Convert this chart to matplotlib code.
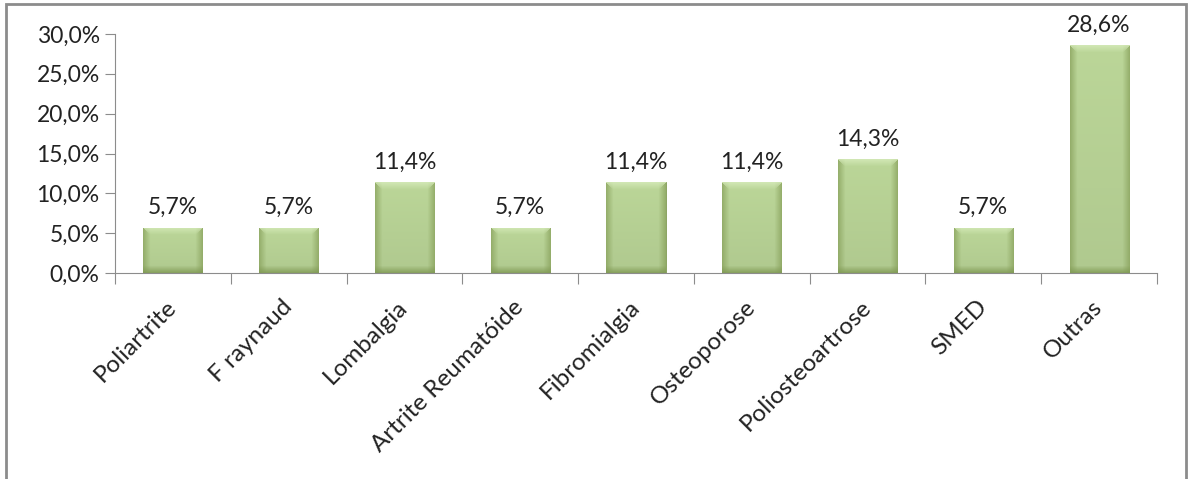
import numpy as np
import matplotlib
matplotlib.use("Agg")
import matplotlib.pyplot as plt
from matplotlib.patches import Rectangle
from matplotlib.colors import to_rgb

categorias = ["Poliartrite", "F raynaud", "Lombalgia", "Artrite Reumatóide", "Fibromialgia",
              "Osteoporose", "Poliosteoartrose", "SMED", "Outras"]
valores = [5.7, 5.7, 11.4, 5.7, 11.4, 11.4, 14.3, 5.7, 28.6]
rotulos = ["5,7%", "5,7%", "11,4%", "5,7%", "11,4%", "11,4%", "14,3%", "5,7%", "28,6%"]
yticks = [0, 5, 10, 15, 20, 25, 30]

plt.rcParams['font.family'] = ['Lato', 'DejaVu Sans']

fig = plt.figure(figsize=(11.89, 4.79), dpi=100)
ax = fig.add_axes([115/1189, 1-273/479, (1157-115)/1189, (273-34)/479])

# moldura do grafico
fig.patches.append(Rectangle((6/1189, -0.05), (1186-6)/1189, 1.05 - 4/479, transform=fig.transFigure,
                             fill=False, edgecolor="#8c8c8c", linewidth=2, zorder=0))

x = np.arange(len(categorias))
largura = 0.51
base = np.array(to_rgb("#bbd698"))
lado = np.array(to_rgb("#8aa35e"))
fundo = np.array(to_rgb("#7f9953"))
topo = np.array(to_rgb("#d6ebba"))


def imagem_bisel(h):
    # sombreamento tipo "bisel" do Excel, em pixels aproximados
    nx = 59
    ny = max(int(round(h * 239 / 30)), 10)
    i = np.arange(nx)[None, :]
    j = np.arange(ny)[:, None]
    dl = np.minimum(i, nx - 1 - i)
    db = ny - 1 - j
    dt = j
    img = np.tile(base, (ny, nx, 1)).astype(float)
    t = (j / ny)[..., None]
    img = img * (1 - 0.06 * t)
    b = 7.0
    fl = np.clip(1 - dl / b, 0, 1)[..., None] * np.ones((ny, 1, 1))
    fb = np.clip(1 - db / b, 0, 1)[..., None] * np.ones((1, nx, 1))
    ft = np.clip(1 - dt / b, 0, 1)[..., None] * np.ones((1, nx, 1))
    img = img * (1 - 0.75 * fl) + lado * 0.75 * fl
    img = img * (1 - 0.8 * fb) + fundo * 0.8 * fb
    ft = ft * (dl[..., None] >= dt[..., None])
    img = img * (1 - 0.8 * ft) + topo * 0.8 * ft
    return np.clip(img, 0, 1)


barras = ax.bar(x, valores, width=largura, color="#b5d08a", edgecolor="#7f9953", linewidth=0.6, zorder=2)
for b in barras:
    x0, y0, w, h = b.get_x(), b.get_y(), b.get_width(), b.get_height()
    im = ax.imshow(imagem_bisel(h), extent=[x0, x0 + w, y0, y0 + h], origin="upper",
                   aspect="auto", zorder=2.5, interpolation="bilinear")
    im.set_clip_path(b)

for xi, v, r in zip(x, valores, rotulos):
    ax.text(xi, v + 1.2, r, ha="center", va="bottom", fontsize=16.5, color="#222222")

ax.set_xlim(-0.5, len(categorias) - 0.5)
ax.set_ylim(0, 30)
ax.set_yticks(yticks)
ax.set_yticklabels([f"{t:.1f}%".replace(".", ",") for t in yticks], fontsize=16.5, color="#222222")
ax.set_xticks(np.arange(len(categorias) + 1) - 0.5)
ax.set_xticklabels([])
ax.set_xticks(x, minor=True)
ax.set_xticklabels(categorias, minor=True, rotation=45, ha="right", va="center", rotation_mode="anchor",
                   fontsize=17.5, color="#222222")
ax.tick_params(axis="x", which="minor", length=0, pad=22)
ax.tick_params(axis="x", which="major", length=8, color="#8c8c8c", direction="out")
ax.tick_params(axis="y", length=7, color="#8c8c8c", direction="out", pad=4)

for s in ["top", "right"]:
    ax.spines[s].set_visible(False)
for s in ["left", "bottom"]:
    ax.spines[s].set_color("#8c8c8c")

fig.savefig("out.png", dpi=100)
